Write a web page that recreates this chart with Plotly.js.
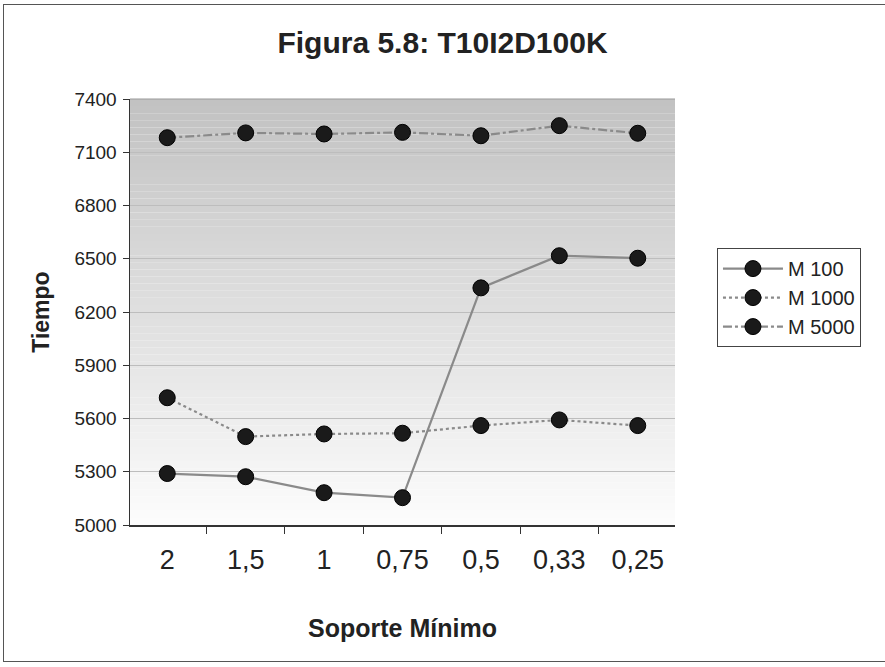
<!DOCTYPE html>
<html><head><meta charset="utf-8">
<script src="https://cdn.plot.ly/plotly-3.0.1.min.js"></script>
<style>
html,body{margin:0;padding:0;background:#fff;overflow:hidden;}
#frame{position:absolute;left:3px;top:4px;width:890px;height:658px;border:1.5px solid #555;border-right:none;box-sizing:border-box;}
#chart{position:absolute;left:0;top:0;width:885px;height:667px;}
</style></head>
<body>
<div id="frame"></div>
<div id="chart"></div>
<script>
const categories = ["2", "1,5", "1", "0,75", "0,5", "0,33", "0,25"];
const m100 = [5290, 5272, 5182, 5154, 6336, 6517, 6503];
const m1000 = [5717, 5498, 5513, 5517, 5560, 5592, 5560];
const m5000 = [7182, 7209, 7203, 7212, 7193, 7250, 7207];
const seriesNames = ["M 100", "M 1000", "M 5000"];
const yTicks = [5000, 5300, 5600, 5900, 6200, 6500, 6800, 7100, 7400];

const FONT = "'Liberation Sans', Arial, sans-serif";
const lineColor = "#8a8a8a";
const marker = {symbol: "circle", size: 16, color: "#1a1a1a", line: {color: "#000", width: 1}};

function tr(y, name, dash) {
  return {x: categories, y: y, name: name, type: "scatter", mode: "lines+markers",
    line: {color: lineColor, width: 2.2, dash: dash}, marker: marker};
}
const data = [tr(m100, seriesNames[0], "solid"), tr(m1000, seriesNames[1], "dot"), tr(m5000, seriesNames[2], "dashdot")];

// gradient background bands in the plot area
const shapes = [];
const N = 60;
for (let i = 0; i < N; i++) {
  const t = i / (N - 1);
  const c = Math.round(252 - t * 58);
  shapes.push({type: "rect", xref: "paper", yref: "paper", x0: 0, x1: 1,
    y0: i / N, y1: (i + 1) / N, fillcolor: `rgb(${c},${c},${c})`, line: {width: 0}, layer: "below"});
}

const layout = {
  width: 885, height: 667,
  margin: {l: 130, r: 210, t: 99, b: 142},
  paper_bgcolor: "rgba(0,0,0,0)",
  plot_bgcolor: "rgba(0,0,0,0)",
  showlegend: true,
  title: {text: "<b>Figura 5.8: T10I2D100K</b>", x: 0.5, xanchor: "center", y: 0.936, yanchor: "middle",
    font: {family: FONT, size: 30, color: "#222"}},
  xaxis: {type: "category", tickson: "boundaries", ticks: "outside", ticklen: 7, tickcolor: "#333",
    showline: true, linecolor: "#333", linewidth: 1.5, showgrid: false, ticklabelstandoff: 10,
    tickfont: {family: FONT, size: 27, color: "#222"},
    title: {text: "<b>Soporte Mínimo</b>", font: {family: FONT, size: 25, color: "#222"}, standoff: 45},
    mirror: false},
  yaxis: {range: [5000, 7400], tickvals: yTicks, ticks: "outside", ticklen: 6, tickcolor: "#333",
    showline: true, linecolor: "#333", linewidth: 1.5, showgrid: true, gridcolor: "#bdbdbd", gridwidth: 1,
    zeroline: false, tickfont: {family: FONT, size: 19, color: "#222"}, ticklabelstandoff: 2,
    title: {text: "<b>Tiempo</b>", font: {family: FONT, size: 23, color: "#222"}, standoff: 18}},
  legend: {x: 1.077, xanchor: "left", y: 0.65, yanchor: "top", bgcolor: "#fff",
    bordercolor: "#444", borderwidth: 1, font: {family: FONT, size: 20, color: "#222"},
    tracegroupgap: 0, itemwidth: 60},
  shapes: shapes.concat([{type: "line", xref: "paper", yref: "paper", x0: 0, x1: 1, y0: 1, y1: 1,
    line: {color: "#999", width: 1}}])
};

Plotly.newPlot("chart", data, layout, {displayModeBar: false, staticPlot: true});
</script>
</body></html>
